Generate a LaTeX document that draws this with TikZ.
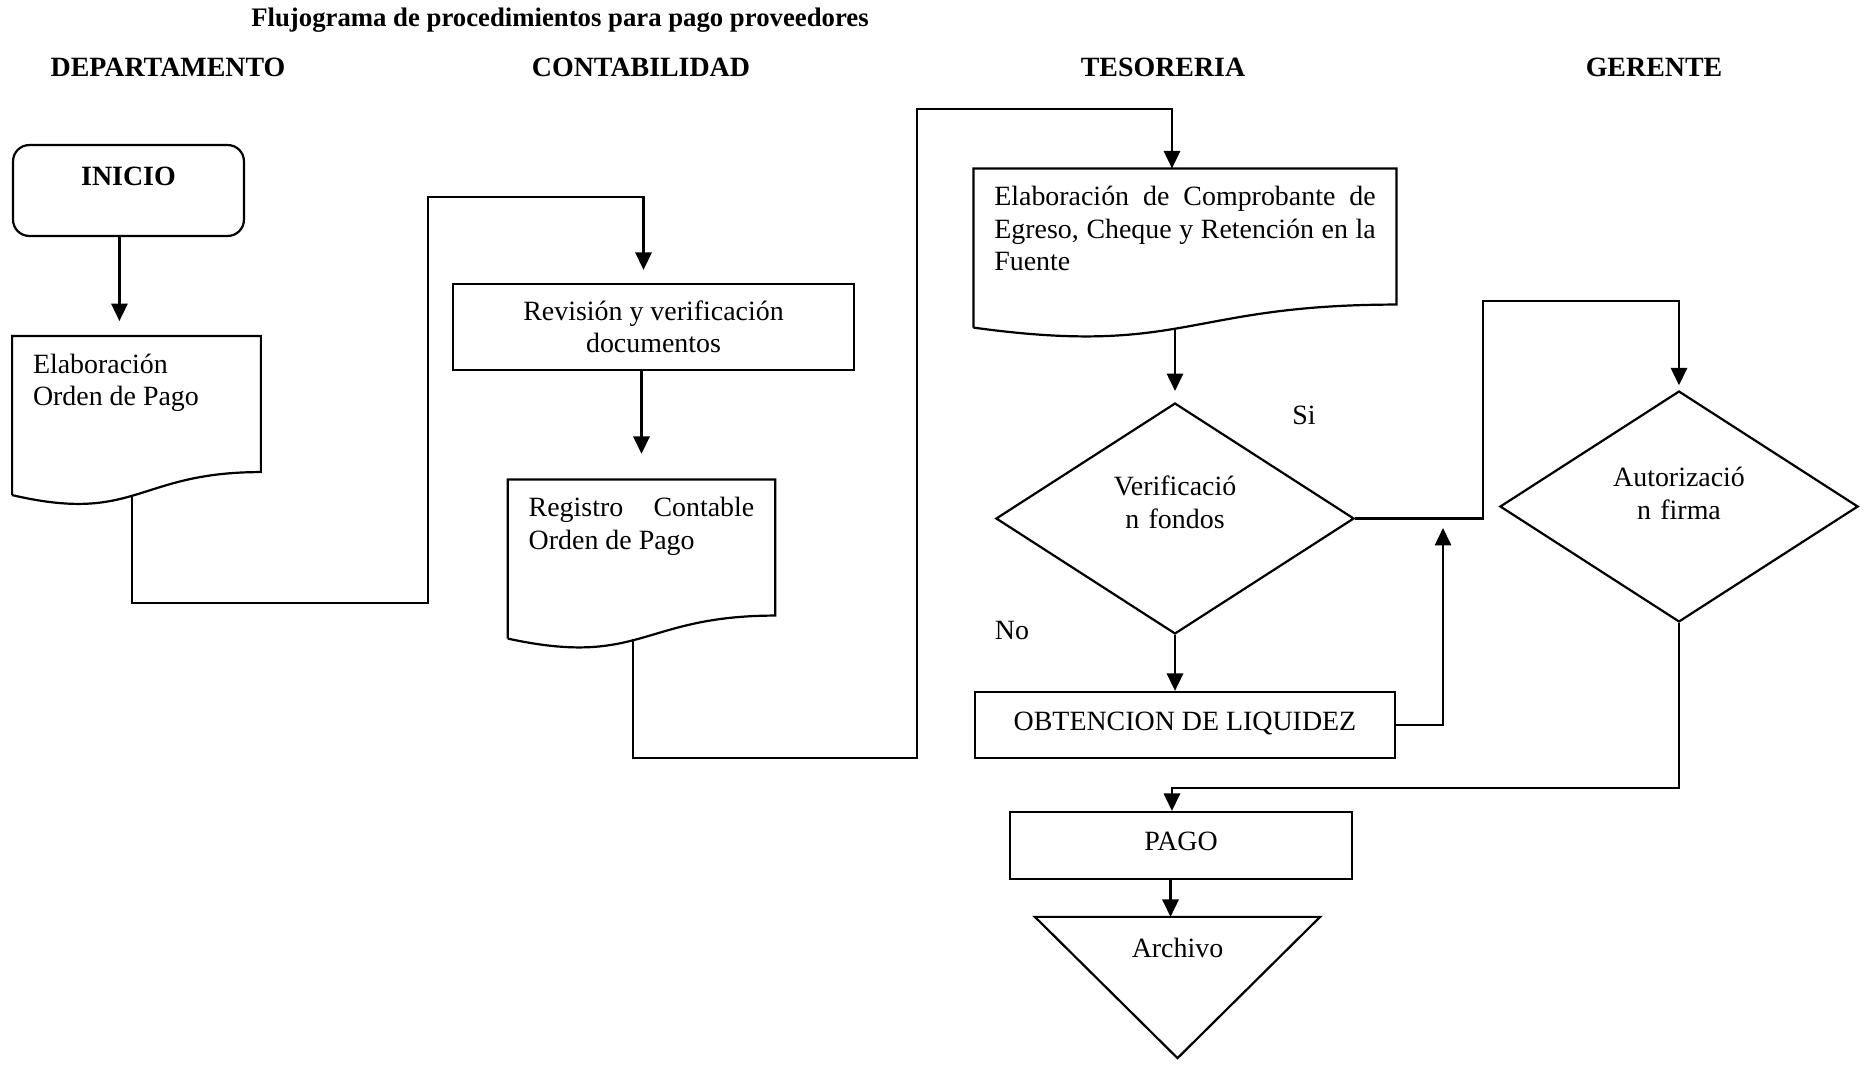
\documentclass[tikz,border=0pt]{standalone}
\usepackage{fontspec}
\setmainfont{Liberation Serif}
\usetikzlibrary{positioning}
\usetikzlibrary{arrows.meta,shapes}
\tikzstyle{titulo}=[font=\fontsize{11.5}{13}\selectfont\bfseries]
\tikzstyle{area}=[font=\fontsize{12}{14}\selectfont\bfseries]
\tikzstyle{inicio}=[rectangle,rounded corners=7pt,draw,minimum width=99.3pt,minimum height=39.1pt,font=\fontsize{12}{14}\selectfont\bfseries,text height=8pt,text depth=11.9pt]
\tikzstyle{proceso}=[rectangle,draw,align=center]
\tikzstyle{documento}=[rectangle,align=justify,inner xsep=8.5pt,inner ysep=0pt,text height=15.5pt,text depth=52pt]
\tikzstyle{decision}=[diamond,draw,aspect=1.55,minimum width=154pt,minimum height=99.3pt,inner sep=1pt,text width=60pt,align=center,text height=10pt]
\tikzstyle{archivo}=[rectangle,inner sep=0pt,minimum width=121.7pt,text height=16.8pt,text depth=43pt]
\tikzstyle{edge} = [draw,-{Triangle[length=7.5pt,width=7pt]}]
\tikzstyle{linea} = [draw]

\begin{document}
\begin{tikzpicture}[x=0.43pt,y=-0.43pt,line width=0.95pt,every node/.style={font=\fontsize{12}{14}\selectfont}]
    \useasboundingbox (0,0) rectangle (1865,1065);

    \node[titulo] (titulo) at (560,20) {Flujograma de procedimientos para pago proveedores};
    \foreach \pos/\name/\texto in {{(168,67)/departamento/DEPARTAMENTO}, {(641,67)/contabilidad/CONTABILIDAD}, {(1163,67)/tesoreria/TESORERIA}, {(1654,67)/gerente/GERENTE}}
        \node[area] (\name) at \pos {\texto};

    \node[inicio] (inicio) at (128.5,190.5) {INICIO};
    \node[documento,text width=89pt] (ordenpago) at (136.5,415.5) {Elaboración\\Orden de Pago};
    \node[proceso,minimum width=172.4pt,minimum height=37pt] (revision) at (653.5,327) {Revisión y verificación\\documentos};
    \node[documento,text width=97pt] (registro) at (641.5,559) {Registro Contable\linebreak Orden de Pago};
    \node[documento,text width=164pt] (comprobante) at (1185,248) {Elaboración de Comprobante de\linebreak Egreso, Cheque y Retención en la\linebreak Fuente};
    \node[decision,text depth=29.8pt] (fondos) at (1175,518.5) {Verificació\\\mbox{n fondos}};
    \node[proceso,minimum width=180.6pt,minimum height=28.4pt,text height=8pt,text depth=3.7pt] (liquidez) at (1185,725) {OBTENCION DE LIQUIDEZ};
    \node[decision,text depth=27.2pt] (firma) at (1679,506.5) {Autorizació\\\mbox{n firma}};
    \node[proceso,minimum width=147pt,minimum height=28.8pt,text height=8pt,text depth=4pt] (pago) at (1181,845.5) {PAGO};
    \node[archivo] (archivo) at (1177.5,987.5) {Archivo};
    \node (si) at (1304,415) {Si};
    \node (no) at (1012,630) {No};
    \coordinate (retorno) at (1443,528);

    % hojas con borde ondulado
    \foreach \name in {ordenpago, registro, comprobante}
        \draw (\name.south west) -- (\name.north west) -- (\name.north east) -- ([yshift=9.9pt]\name.south east) .. controls ([yshift=9.9pt]\name.south) and ([yshift=-12.5pt]\name.south) .. (\name.south west);
    \draw (archivo.north west) -- (archivo.north east) -- (archivo.south) -- cycle;

    \path[edge,shorten >=6.4pt] ([xshift=-3.9pt]inicio.south) -- ([xshift=-3.9pt]inicio.south |- ordenpago.north);
    \path[edge,shorten >=5.6pt] ([xshift=-2pt]ordenpago.south) |- (428,603) -- (428,197) -| ([xshift=-4.3pt]revision.north);
    \path[edge,shorten >=11pt] (registro.north |- revision.south) -- (registro.north);
    \path[edge] ([xshift=-3.6pt]registro.south) |- (917,758) -- (917,109) -| ([xshift=-5.6pt]comprobante.north);
    \path[edge,shorten >=4.7pt] (fondos.north |- comprobante.south) -- (fondos.north);
    \path[edge] (fondos.south) -- (fondos.south |- liquidez.north);
    \path[edge] (liquidez.east) -| (retorno);
    \path[edge,shorten >=2pt] (fondos.east) -| (1483,301) -| (firma.north);
    \path[edge] (firma.south) -- ++(0,165) -| ([xshift=-3.9pt]pago.north);
    \path[edge] ([xshift=-3pt]archivo.north |- pago.south) -- ([xshift=-3pt]archivo.north);

\end{tikzpicture}
\end{document}
